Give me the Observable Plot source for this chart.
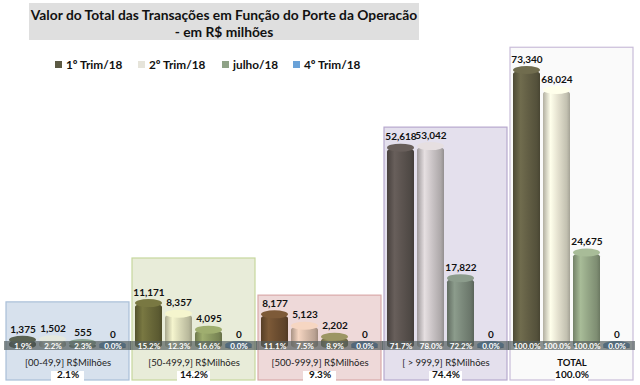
<!DOCTYPE html>
<html><head><meta charset="utf-8">
<script src="https://cdn.jsdelivr.net/npm/d3@7"></script>
<script src="https://cdn.jsdelivr.net/npm/@observablehq/plot@0.6"></script>
<style>
body{margin:0;background:#fff;}
#wrap{position:relative;width:640px;height:385px;overflow:hidden;font-family:Lato,"Open Sans",sans-serif;}
#titlebox{position:absolute;left:29px;top:3px;width:390px;height:37px;background:#dfdfdf;}
#title{position:absolute;left:24px;top:6px;width:400px;text-align:center;font-weight:bold;font-size:13.8px;line-height:17px;color:#111;white-space:nowrap;}
.leg{position:absolute;top:57px;font-weight:bold;font-size:11.8px;color:#111;white-space:nowrap;line-height:16px;}
.sw{display:inline-block;width:7px;height:7px;margin-right:4px;vertical-align:1px;}
#chart{position:absolute;left:0;top:0;}
</style></head>
<body><div id="wrap"><div id="chart"></div><div id="titlebox"></div><div id="title">Valor do Total das Transações em Função do Porte da Operacão<br>- em R$ milhões</div><div id="legend"></div></div>
<script>
// ---- data ----
const groups = ["[00-49,9] R$Milhões", "[50-499,9] R$Milhões", "[500-999,9] R$Milhões", "[ > 999,9] R$Milhões", "TOTAL"];
const series = ["1º Trim/18", "2º Trim/18", "julho/18", "4º Trim/18"];
const trim1 = [1375, 11171, 8177, 52618, 73340];
const trim2 = [1502, 8357, 5123, 53042, 68024];
const julho = [555, 4095, 2202, 17822, 24675];
const trim4 = [0, 0, 0, 0, 0];
const pctTrim1 = ["1.9%", "15.2%", "11.1%", "71.7%", "100.0%"];
const pctTrim2 = ["2.2%", "12.3%", "7.5%", "78.0%", "100.0%"];
const pctJulho = ["2.3%", "16.6%", "8.9%", "72.2%", "100.0%"];
const pctTrim4 = ["0.0%", "0.0%", "0.0%", "0.0%", "0.0%"];
const groupShare = ["2.1%", "14.2%", "9.3%", "74.4%", "100.0%"];

// ---- style / layout ----
const legendColors = ["#5c5a44", "#e6e4da", "#8fa287", "#6aa2d8"];
const barColors = [
  ["#4f5749", "#c9cdc4", "#7b9181", "#4a78a8"],
  ["#6b6a3a", "#d8d8b6", "#8c9a62", "#4a78a8"],
  ["#6e4f31", "#d9bdab", "#8a8458", "#4a6ea0"],
  ["#5c5450", "#cbc5c7", "#7c8a7c", "#4a78a8"],
  ["#635f45", "#e4e1cf", "#94a686", "#4d7aa5"]
];
const panelFill = ["#d7e1ed", "#e8ecd9", "#eed9d9", "#e4e0ed", "#fafafa"];
const panelStroke = ["#a9bfd8", "#c6d79d", "#d9a9a9", "#b6a8ce", "#c9bdd9"];
const panelTop = [11500, 23200, 13300, 58100, 79400]; // panel (box) heights in R$ milhões

const values = [trim1, trim2, julho, trim4];
const pcts = [pctTrim1, pctTrim2, pctJulho, pctTrim4];
const rows = [];
groups.forEach((g, gi) => series.forEach((s, si) => rows.push({group: g, gi, series: s, si, value: values[si][gi], pct: pcts[si][gi]})));
const panels = groups.map((g, gi) => ({group: g, gi, top: panelTop[gi], share: groupShare[gi]}));

const fmt = d3.format(",");
const font = "Lato, 'Open Sans', sans-serif";

const plot = Plot.plot({
  width: 640, height: 385,
  marginTop: 0, marginBottom: 0, marginLeft: 5, marginRight: 5,
  fx: {domain: groups, padding: 0.02, axis: null},
  x: {domain: series, padding: 0.1, paddingOuter: 0.1, axis: null},
  y: {domain: [0, 80000], range: [345, 45], axis: null},
  color: {type: "identity"},
  style: {fontFamily: font, background: "transparent", overflow: "visible"},
  marks: [
    Plot.rectY(panels, {fx: "group", y1: 0, y2: "top", insetBottom: -35, fill: d => panelFill[d.gi], stroke: d => panelStroke[d.gi], strokeWidth: 1.2}),
    Plot.barY(rows, {fx: "group", x: "series", y1: 0, y2: "value", insetBottom: -4, rx: 14, ry: 4, fill: d => `url(#cyl-${d.gi}-${d.si})`}),
    Plot.barY(rows, {fx: "group", x: "series", y1: "value", y2: "value", insetTop: -4, insetBottom: -4, rx: 14, ry: 4, fill: d => d3.color(barColors[d.gi][d.si]).brighter(0.35).formatHex()}),
    Plot.rectY(panels, {fx: "group", y1: 0, y2: 0, insetTop: -4, insetBottom: -5, insetLeft: -2, insetRight: -2, fill: "#535d5d", fillOpacity: 0.68}),
    Plot.text(rows, {fx: "group", x: "series", y: 0, dy: 0.5, text: "pct", fill: "white", fontWeight: "bold", fontSize: 8}),
    Plot.text(rows, {fx: "group", x: "series", y: "value", dy: -11, text: d => fmt(d.value), fill: "#111", fontWeight: "bold", fontSize: 10}),
    Plot.text(panels.filter(d => d.group !== "TOTAL"), {fx: "group", frameAnchor: "bottom", dy: -20, text: "group", fill: "#222", fontSize: 9.5}),
    Plot.text(panels.filter(d => d.group === "TOTAL"), {fx: "group", frameAnchor: "bottom", dy: -20, text: "group", fill: "#111", fontWeight: "bold", fontSize: 9.5}),
    Plot.rectY(panels, {fx: "group", y1: 0, y2: 0, insetTop: 26, insetBottom: -38, insetLeft: 45, insetRight: 45, fill: "white"}),
    Plot.text(panels, {fx: "group", frameAnchor: "bottom", dy: -8, text: "share", fill: "#111", fontWeight: "bold", fontSize: 10})
  ]
});

// cylinder gradients
const defs = d3.select(plot).insert("defs", ":first-child");
barColors.forEach((row, gi) => row.forEach((c, si) => {
  const base = d3.color(c);
  const g = defs.append("linearGradient").attr("id", `cyl-${gi}-${si}`).attr("x1", 0).attr("x2", 1).attr("y1", 0).attr("y2", 0);
  [[0, base.darker(0.7)], [0.28, base.brighter(0.35)], [0.55, base], [0.88, base.darker(0.45)], [1, base.darker(0.9)]]
    .forEach(([o, col]) => g.append("stop").attr("offset", o).attr("stop-color", col.formatHex()));
}));
document.getElementById("chart").appendChild(plot);

// legend
const legPos = [55, 138, 222, 293];
const legend = document.getElementById("legend");
series.forEach((s, i) => {
  const el = document.createElement("div");
  el.className = "leg";
  el.style.left = legPos[i] + "px";
  el.innerHTML = `<span class="sw" style="background:${legendColors[i]}"></span>${s}`;
  legend.appendChild(el);
});
</script></body></html>
